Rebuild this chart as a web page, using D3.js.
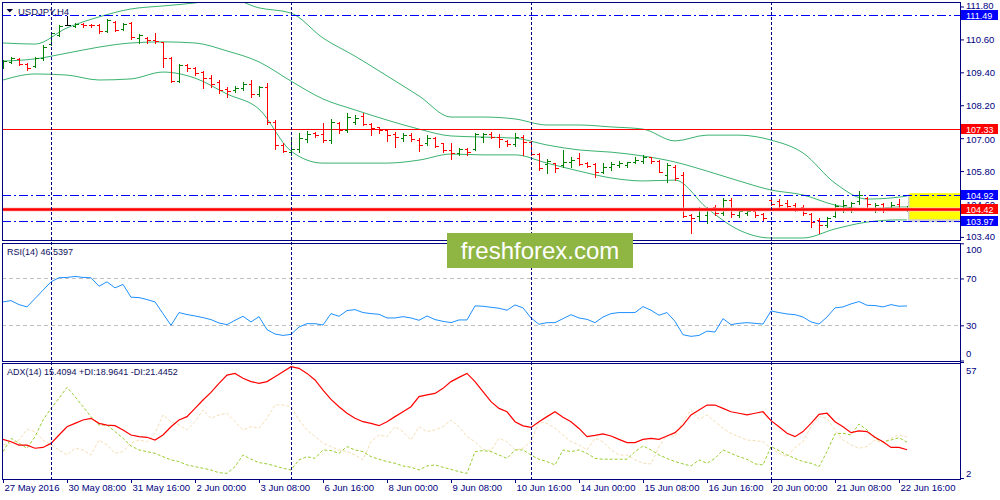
<!DOCTYPE html>
<html>
<head>
<meta charset="utf-8">
<title>USDJPY,H4</title>
<script src="https://cdn.jsdelivr.net/npm/d3@7"></script>
<style>
  html, body { margin: 0; padding: 0; background: #ffffff; overflow: hidden; }
  svg { display: block; }
  text { font-family: "Liberation Sans", Arial, sans-serif; }
</style>
</head>
<body>
<div id="chart"></div>
<script>
// values (H4 bars, 27 May - 22 Jun 2016)
const symbolLabel = 'USDJPY,H4';
const rsiLabel = 'RSI(14) 46.5397';
const adxLabel = 'ADX(14) 15.4094 +DI:18.9641 -DI:21.4452';

const timeLabels = ['27 May 2016', '30 May 08:00', '31 May 16:00', '2 Jun 00:00', '3 Jun 08:00',
  '6 Jun 16:00', '8 Jun 00:00', '9 Jun 08:00', '10 Jun 16:00', '14 Jun 00:00', '15 Jun 08:00',
  '16 Jun 16:00', '20 Jun 00:00', '21 Jun 08:00', '22 Jun 16:00'];
const timeLabelBars = [0, 8, 16, 24, 32, 40, 48, 56, 64, 72, 80, 88, 96, 104, 112];
const gridBars = [6, 36, 66, 96];

const opens = [
  109.63, 109.78, 109.89, 109.70, 109.63, 109.92, 110.43, 110.76, 111.13, 111.09,
  111.16, 111.13, 111.13, 110.91, 111.23, 110.98, 111.20, 110.65, 110.65, 110.58,
  110.51, 109.92, 109.08, 109.67, 109.56, 109.41, 109.19, 109.05, 108.79, 108.76,
  108.83, 108.97, 108.61, 108.86, 107.59, 106.75, 106.49, 106.60, 106.97, 107.19,
  107.15, 106.93, 107.55, 107.30, 107.59, 107.81, 107.52, 107.41, 107.30, 107.15,
  107.00, 107.11, 106.93, 106.82, 107.00, 106.82, 106.57, 106.46, 106.60, 106.60,
  107.04, 107.15, 107.04, 106.90, 106.79, 107.04, 106.86, 106.42, 106.06, 106.09,
  106.02, 106.13, 106.28, 106.09, 106.06, 105.77, 105.95, 106.02, 106.02, 106.13,
  106.17, 106.31, 106.17, 105.66, 105.95, 105.66, 104.20, 104.16, 104.20, 104.49,
  104.27, 104.74, 104.20, 104.27, 104.34, 104.23, 104.74, 104.71, 104.64, 104.56,
  104.49, 104.23, 104.02, 103.83, 104.16, 104.38, 104.49, 104.71, 104.82, 104.45,
  104.60, 104.45, 104.60, 104.40];
const highs = [
  109.85, 109.96, 109.92, 109.74, 109.96, 110.40, 110.87, 111.13, 111.45, 111.20,
  111.20, 111.16, 111.16, 111.34, 111.27, 111.20, 111.22, 110.80, 110.69, 110.83,
  110.52, 109.96, 109.70, 109.70, 109.59, 109.45, 109.30, 109.12, 108.86, 108.90,
  109.05, 109.12, 108.90, 109.01, 107.66, 106.82, 106.93, 107.19, 107.26, 107.22,
  107.55, 107.70, 107.59, 107.92, 107.85, 107.92, 107.55, 107.42, 107.31, 107.22,
  107.19, 107.19, 107.00, 107.11, 107.04, 106.83, 106.82, 106.64, 106.64, 107.19,
  107.19, 107.22, 107.15, 106.93, 107.19, 107.11, 106.90, 106.46, 106.24, 106.10,
  106.57, 106.31, 106.46, 106.13, 106.09, 106.09, 106.13, 106.17, 106.13, 106.31,
  106.39, 106.32, 106.20, 106.09, 106.02, 105.77, 104.23, 104.49, 104.49, 104.56,
  104.82, 104.82, 104.45, 104.38, 104.35, 104.27, 104.78, 104.78, 104.74, 104.64,
  104.56, 104.27, 104.09, 104.12, 104.60, 104.74, 104.67, 105.07, 104.85, 104.64,
  104.64, 104.67, 104.78, 104.53];
const lows = [
  109.56, 109.74, 109.67, 109.48, 109.59, 109.85, 110.40, 110.72, 111.13, 111.05,
  111.05, 111.05, 110.83, 110.87, 110.91, 110.94, 110.61, 110.47, 110.47, 110.47,
  109.59, 109.05, 109.05, 109.45, 109.30, 108.83, 108.86, 108.65, 108.50, 108.68,
  108.76, 108.50, 108.54, 107.52, 106.60, 106.49, 106.39, 106.49, 106.86, 107.04,
  106.86, 106.82, 107.19, 107.22, 107.52, 107.48, 107.11, 107.19, 106.90, 106.68,
  106.90, 106.90, 106.53, 106.75, 106.68, 106.49, 106.24, 106.39, 106.39, 106.57,
  106.86, 107.00, 106.68, 106.71, 106.71, 106.39, 106.39, 105.84, 105.73, 105.77,
  105.95, 105.95, 106.02, 105.95, 105.58, 105.73, 105.84, 105.95, 105.95, 106.09,
  106.09, 106.09, 105.77, 105.40, 105.47, 104.12, 103.54, 104.02, 103.91, 104.20,
  104.20, 104.12, 104.12, 104.20, 104.12, 104.02, 104.56, 104.49, 104.45, 104.34,
  104.20, 103.76, 103.54, 103.76, 104.12, 104.31, 104.31, 104.60, 104.49, 104.31,
  104.31, 104.38, 104.38, 104.34];
const closes = [
  109.81, 109.92, 109.70, 109.56, 109.92, 110.32, 110.83, 111.09, 111.13, 111.16,
  111.13, 111.11, 110.91, 111.31, 110.94, 111.18, 110.69, 110.76, 110.58, 110.54,
  109.92, 109.08, 109.67, 109.56, 109.38, 109.19, 108.97, 108.76, 108.72, 108.83,
  108.97, 108.61, 108.86, 107.59, 106.75, 106.53, 106.60, 107.00, 107.15, 107.11,
  106.93, 107.59, 107.30, 107.77, 107.73, 107.52, 107.37, 107.30, 107.11, 107.04,
  107.11, 106.97, 106.75, 107.00, 106.71, 106.57, 106.46, 106.60, 106.49, 107.15,
  107.15, 107.04, 106.97, 106.79, 107.04, 106.86, 106.42, 105.91, 106.17, 105.91,
  106.13, 106.20, 106.06, 105.98, 105.77, 105.95, 106.06, 106.09, 106.12, 106.20,
  106.31, 106.17, 105.77, 106.02, 105.55, 104.16, 104.09, 104.45, 104.42, 104.27,
  104.74, 104.23, 104.34, 104.34, 104.20, 104.09, 104.60, 104.56, 104.53, 104.42,
  104.27, 103.94, 103.83, 104.09, 104.53, 104.56, 104.64, 104.93, 104.60, 104.56,
  104.42, 104.56, 104.45, 104.42];

// Bollinger bands, read every 4th bar
const bbBars = [0, 4, 8, 12, 16, 20, 24, 28, 32, 36, 40, 44, 48, 52, 56, 60, 64, 68, 72, 76,
  80, 84, 88, 92, 96, 100, 104, 108, 112, 113];
const bbUpper = [110.47, 110.43, 111.02, 111.42, 111.71, 111.82, 111.93, 112.11, 111.75, 111.56,
  110.65, 109.99, 109.27, 108.54, 107.77, 107.77, 107.70, 107.48, 107.48, 107.41,
  107.33, 106.90, 107.11, 107.11, 106.93, 106.46, 105.36, 104.78, 104.85, 104.89];
const bbMid = [109.81, 109.89, 110.10, 110.32, 110.47, 110.51, 110.47, 110.18, 109.78, 109.08,
  108.43, 108.03, 107.66, 107.33, 107.08, 107.04, 107.00, 106.75, 106.57, 106.49,
  106.35, 106.13, 105.80, 105.44, 105.11, 104.93, 104.56, 104.42, 104.49, 104.49];
const bbLower = [109.12, 109.34, 109.30, 109.12, 109.16, 109.41, 109.19, 108.61, 108.06, 106.53,
  106.09, 106.09, 106.09, 106.20, 106.42, 106.39, 106.39, 106.09, 105.80, 105.55,
  105.44, 105.47, 104.45, 103.65, 103.36, 103.36, 103.69, 103.94, 104.02, 104.02];

const rsiValues = [
  50.0, 51.1, 47.7, 45.7, 52.9, 60.0, 67.1, 70.6, 70.9, 71.7,
  70.9, 70.6, 63.4, 67.1, 62.0, 64.9, 54.0, 53.7, 52.0, 50.0,
  40.0, 30.0, 40.9, 39.2, 38.0, 36.6, 34.9, 32.0, 30.6, 34.3,
  37.7, 32.9, 37.4, 26.3, 22.6, 21.4, 22.3, 28.6, 31.4, 31.4,
  30.3, 40.0, 37.7, 42.6, 43.4, 40.9, 40.0, 39.4, 36.3, 36.3,
  37.4, 36.3, 34.3, 38.0, 34.9, 33.4, 32.3, 34.6, 34.6, 46.6,
  46.3, 45.4, 44.6, 42.9, 47.4, 44.9, 36.3, 30.9, 32.3, 32.3,
  35.7, 39.1, 36.3, 35.1, 32.3, 37.1, 40.0, 40.9, 40.9, 40.9,
  46.0, 42.9, 38.6, 40.9, 33.4, 22.0, 20.6, 21.4, 25.1, 24.3,
  35.7, 30.6, 31.7, 32.3, 31.7, 31.1, 42.3, 40.9, 39.7, 39.1,
  37.1, 32.9, 31.1, 37.1, 44.9, 45.7, 48.3, 50.3, 47.1, 46.9,
  45.7, 47.7, 46.3, 46.54];
const adxValues = [
  20.3, 19.2, 17.6, 17.6, 16.1, 16.5, 18.4, 22.4, 26.3, 27.9,
  29.5, 30.3, 27.9, 27.1, 26.8, 24.8, 22.4, 21.6, 21.3, 20.0,
  22.4, 26.3, 29.5, 31.1, 35.0, 39.0, 42.6, 46.9, 50.8, 51.6,
  49.3, 47.7, 46.9, 47.7, 50.0, 52.4, 54.8, 54.0, 51.6, 48.5,
  43.7, 39.3, 35.8, 32.7, 30.3, 28.7, 27.9, 26.8, 28.7, 31.1,
  33.4, 35.8, 40.6, 41.4, 42.1, 44.5, 47.7, 49.7, 51.6, 47.7,
  42.9, 38.2, 35.0, 33.4, 28.7, 26.7, 26.0, 28.7, 31.1, 33.4,
  30.8, 28.7, 25.5, 21.6, 22.2, 22.9, 21.9, 20.3, 18.8, 18.8,
  20.3, 20.8, 20.3, 21.9, 23.5, 27.1, 31.9, 34.2, 36.6, 36.6,
  35.0, 33.4, 32.7, 31.9, 32.7, 33.4, 29.2, 26.3, 23.2, 21.6,
  24.0, 27.9, 32.2, 32.7, 28.7, 26.3, 23.5, 24.3, 24.0, 21.3,
  19.2, 16.5, 16.5, 15.41];
const plusDiValues = [
  14.5, 20.8, 18.5, 16.1, 21.6, 29.5, 35.0, 39.8, 45.0, 40.6,
  35.8, 31.1, 27.1, 27.1, 24.0, 20.8, 17.2, 15.3, 14.5, 13.7,
  12.1, 10.6, 9.8, 8.2, 7.4, 6.6, 5.8, 4.5, 4.2, 7.4,
  12.9, 10.9, 9.3, 8.7, 7.7, 6.6, 5.8, 10.6, 12.1, 11.3,
  15.3, 15.0, 13.7, 16.9, 15.3, 14.5, 12.1, 10.9, 9.8, 9.0,
  7.7, 7.1, 5.8, 7.7, 8.2, 7.1, 6.1, 5.0, 4.2, 14.5,
  15.0, 14.5, 12.9, 11.3, 15.3, 15.3, 12.9, 10.9, 9.8, 8.2,
  15.3, 14.5, 15.3, 13.7, 11.3, 10.9, 10.9, 10.9, 10.9, 14.5,
  17.2, 15.3, 12.9, 11.3, 9.8, 8.7, 7.7, 10.6, 9.0, 11.3,
  15.3, 13.7, 12.1, 10.9, 8.7, 8.2, 16.9, 15.0, 12.9, 11.3,
  9.8, 9.0, 7.4, 14.5, 22.9, 23.2, 22.4, 27.6, 24.8, 20.8,
  19.2, 20.0, 21.1, 18.96];
const minusDiValues = [
  17.7, 18.5, 20.0, 25.1, 24.0, 20.0, 17.7, 15.3, 12.9, 16.1,
  15.3, 12.9, 20.0, 17.7, 13.7, 14.5, 18.5, 20.0, 19.2, 23.2,
  31.9, 28.7, 27.1, 24.8, 28.7, 34.3, 30.3, 31.9, 32.7, 28.7,
  24.8, 26.3, 25.6, 30.3, 36.6, 36.6, 35.8, 29.5, 24.8, 21.6,
  18.5, 16.9, 15.3, 14.5, 12.9, 10.6, 19.2, 22.4, 21.6, 26.3,
  24.0, 20.0, 26.3, 24.0, 24.8, 26.3, 29.5, 26.3, 21.6, 19.2,
  15.6, 15.0, 20.8, 19.2, 15.3, 16.1, 19.2, 28.7, 27.9, 25.6,
  22.4, 19.2, 17.7, 15.3, 20.8, 19.2, 15.3, 12.9, 12.9, 10.6,
  9.0, 8.7, 16.9, 22.4, 21.6, 28.7, 34.3, 29.8, 31.9, 28.7,
  25.6, 23.2, 21.6, 20.0, 19.7, 19.2, 16.1, 13.7, 12.1, 16.5,
  19.2, 26.3, 31.1, 30.3, 24.8, 20.0, 17.7, 16.1, 16.9, 20.0,
  18.5, 20.8, 22.4, 21.45];

const priceTicks = [111.80, 110.60, 109.40, 108.20, 107.00, 105.80, 104.60, 103.40];
const dashDotLevels = [111.49, 104.92, 103.97];
const supportLevel = 107.33;
const currentPrice = 104.42;
const priceTags = [
  { value: 111.49, kind: 'line' },
  { value: 107.33, kind: 'level' },
  { value: 104.92, kind: 'line' },
  { value: 104.42, kind: 'level' },
  { value: 103.97, kind: 'line' }
];
const targetZone = [104.92, 103.97];
const rsiTicks = [100, 70, 30, 0];
const rsiLevels = [70, 30];
const adxTicks = [57, 2];

// ---- layout ----
const navy = '#000080';
const frame = { left: 2, right: 960 };
const panels = {
  main: { top: 2, bottom: 240 },
  rsi: { top: 243, bottom: 361 },
  adx: { top: 363, bottom: 479 }
};

const svg = d3.select('#chart').append('svg')
  .attr('width', 1000)
  .attr('height', 500);

const x = d3.scaleLinear().domain([0, closes.length - 1]).range([3, 907]);
const yPrice = d3.scaleLinear().domain([103.287, 111.964]).range([panels.main.bottom, panels.main.top]);
const yRsi = d3.scaleLinear().domain([0, 100]).range([360.5, 243.3]);
const yAdx = d3.scaleLinear().domain([2, 57]).range([478, 362]);

const px = i => Math.round(x(i)) + 0.5;
const crisp = v => Math.round(v) + 0.5;

/** a clipped group for one panel */
function panelGroup(name) {
  const p = panels[name];
  svg.append('clipPath').attr('id', `clip-${name}`)
    .append('rect')
    .attr('x', frame.left).attr('y', p.top)
    .attr('width', frame.right - frame.left).attr('height', p.bottom - p.top);
  return svg.append('g').attr('clip-path', `url(#clip-${name})`);
}

const mainG = panelGroup('main');
const rsiG = panelGroup('rsi');
const adxG = panelGroup('adx');

// vertical grid
svg.append('g').selectAll('line').data(gridBars).join('line')
  .attr('x1', d => px(d)).attr('x2', d => px(d))
  .attr('y1', panels.main.top).attr('y2', panels.adx.bottom)
  .attr('stroke', navy)
  .attr('stroke-dasharray', '3,2')
  .attr('shape-rendering', 'crispEdges');

// ---- main panel ----
mainG.append('rect')
  .attr('x', x(closes.length - 1) + 1)
  .attr('y', yPrice(targetZone[0]) - 1)
  .attr('width', frame.right - x(closes.length - 1) - 1)
  .attr('height', yPrice(targetZone[1]) - yPrice(targetZone[0]) + 2)
  .attr('fill', '#d0d0d0');
mainG.append('rect')
  .attr('x', x(closes.length - 1) + 2.5)
  .attr('y', yPrice(targetZone[0]) - 2)
  .attr('width', frame.right - x(closes.length - 1) - 2.5)
  .attr('height', yPrice(targetZone[1]) - yPrice(targetZone[0]))
  .attr('fill', '#ffff00');

const bandLine = d3.line()
  .x(d => x(d.bar))
  .y(d => yPrice(d.value))
  .curve(d3.curveMonotoneX);

[bbUpper, bbMid, bbLower].forEach(band => {
  mainG.append('path')
    .datum(bbBars.map((bar, k) => ({ bar, value: band[k] })))
    .attr('d', bandLine)
    .attr('fill', 'none')
    .attr('stroke', '#3cb371')
    .attr('stroke-width', 1);
});

mainG.append('line')
  .attr('x1', frame.left).attr('x2', frame.right)
  .attr('y1', crisp(yPrice(supportLevel))).attr('y2', crisp(yPrice(supportLevel)))
  .attr('stroke', '#ff0000')
  .attr('shape-rendering', 'crispEdges');

mainG.selectAll('line.dashdot').data(dashDotLevels).join('line')
  .attr('class', 'dashdot')
  .attr('x1', frame.left).attr('x2', frame.right)
  .attr('y1', d => crisp(yPrice(d))).attr('y2', d => crisp(yPrice(d)))
  .attr('stroke', '#0000ff')
  .attr('stroke-dasharray', '9,3,2,3')
  .attr('shape-rendering', 'crispEdges');

const bars = closes.map((c, i) => ({ i, o: opens[i], h: highs[i], l: lows[i], c }));
mainG.selectAll('path.bar').data(bars).join('path')
  .attr('class', 'bar')
  .attr('d', d => {
    const cx = px(d.i);
    const yo = crisp(yPrice(d.o));
    const yc = crisp(yPrice(d.c));
    return `M${cx},${Math.round(yPrice(d.h))}V${Math.round(yPrice(d.l)) + 1}` +
      `M${cx - 3},${yo}H${cx}M${cx},${yc}H${cx + 3}`;
  })
  .attr('fill', 'none')
  .attr('stroke', d => d.c > d.o ? '#008000' : d.c < d.o ? '#ff0000' : '#000000')
  .attr('shape-rendering', 'crispEdges');

const yNow = Math.round(yPrice(currentPrice)) + 0.5;
mainG.append('line')
  .attr('x1', frame.left).attr('x2', frame.right)
  .attr('y1', yNow).attr('y2', yNow)
  .attr('stroke', '#ffc8c8')
  .attr('stroke-width', 4);
mainG.append('line')
  .attr('x1', frame.left).attr('x2', frame.right)
  .attr('y1', yNow).attr('y2', yNow)
  .attr('stroke', '#ff0000')
  .attr('stroke-width', 2.4);

// ---- RSI panel ----
rsiG.selectAll('line.level').data(rsiLevels).join('line')
  .attr('class', 'level')
  .attr('x1', frame.left).attr('x2', frame.right)
  .attr('y1', d => crisp(yRsi(d))).attr('y2', d => crisp(yRsi(d)))
  .attr('stroke', '#c0c0c0')
  .attr('stroke-dasharray', '4,3')
  .attr('shape-rendering', 'crispEdges');

rsiG.append('path')
  .datum(rsiValues)
  .attr('d', d3.line().x((d, i) => x(i)).y(d => yRsi(d)))
  .attr('fill', 'none')
  .attr('stroke', '#1e90ff')
  .attr('stroke-width', 1);

// ---- ADX panel ----
const indicatorLine = d3.line().x((d, i) => x(i)).y(d => yAdx(d));
[
  { values: minusDiValues, color: '#f5deb3', dash: '3,2' },
  { values: plusDiValues, color: '#9acd32', dash: '3,2' },
  { values: adxValues, color: '#ff0000', dash: null }
].forEach(s => {
  adxG.append('path')
    .datum(s.values)
    .attr('d', indicatorLine)
    .attr('fill', 'none')
    .attr('stroke', s.color)
    .attr('stroke-width', s.dash ? 1 : 1.2)
    .attr('stroke-dasharray', s.dash);
});

// ---- frames ----
Object.values(panels).forEach(p => {
  svg.append('rect')
    .attr('x', frame.left + 0.5).attr('y', p.top + 0.5)
    .attr('width', frame.right - frame.left).attr('height', p.bottom - p.top)
    .attr('fill', 'none')
    .attr('stroke', navy)
    .attr('shape-rendering', 'crispEdges');
});

// ---- axes ----
function renderRightAxis(scale, ticks, format, shift) {
  const g = svg.append('g')
    .attr('transform', `translate(${frame.right},0)`)
    .call(d3.axisRight(scale).tickValues(ticks).tickSize(4).tickPadding(2).tickFormat(format));
  g.select('.domain').remove();
  g.selectAll('.tick line').attr('stroke', navy);
  g.selectAll('.tick text')
    .attr('fill', navy)
    .attr('font-size', 9.5)
    .attr('font-family', '"Liberation Sans", Arial, sans-serif')
    .attr('y', d => (shift && shift[d]) || 0);
  return g;
}

renderRightAxis(yPrice, priceTicks, d3.format('.2f'), { 111.8: -1, 107: 1 });
renderRightAxis(yRsi, rsiTicks, d => String(d), { 100: 6, 0: -7 });
renderRightAxis(yAdx, adxTicks, d => String(d), { 57: 8, 2: -5 });

const xAxis = svg.append('g')
  .attr('transform', `translate(0,${panels.adx.bottom})`)
  .call(d3.axisBottom(x).tickValues(timeLabelBars).tickSize(4).tickPadding(1)
    .tickFormat((d, i) => timeLabels[i]));
xAxis.select('.domain').remove();
xAxis.selectAll('.tick line').attr('stroke', navy);
xAxis.selectAll('.tick text')
  .attr('fill', navy)
  .attr('font-size', 9.5)
  .attr('font-family', '"Liberation Sans", Arial, sans-serif')
  .attr('text-anchor', 'start')
  .attr('x', 1);

// price tags on the right scale
const tags = svg.append('g').selectAll('g').data(priceTags).join('g')
  .attr('transform', d => `translate(${frame.right + 1},${Math.round(yPrice(d.value))})`);
tags.append('rect')
  .attr('x', 0).attr('y', -5)
  .attr('width', 37).attr('height', 10)
  .attr('fill', d => d.kind === 'line' ? '#0000ff' : '#ff0000');
tags.append('text')
  .attr('x', 5).attr('y', 3.5)
  .attr('fill', '#ffffff')
  .attr('font-size', 9)
  .text(d => d3.format('.2f')(d.value));

// ---- panel captions ----
svg.append('path')
  .attr('d', 'M6.5,9H13L9.75,12.5Z')
  .attr('fill', '#000030');
svg.append('text')
  .attr('x', 18).attr('y', 14.5)
  .attr('fill', '#101060')
  .attr('font-size', 9.5)
  .text(symbolLabel);
svg.append('text')
  .attr('x', 7).attr('y', 255)
  .attr('fill', '#101060')
  .attr('font-size', 9)
  .text(rsiLabel);
svg.append('text')
  .attr('x', 7).attr('y', 375)
  .attr('fill', '#101060')
  .attr('font-size', 9)
  .text(adxLabel);

// ---- watermark ----
svg.append('rect')
  .attr('x', 447).attr('y', 233)
  .attr('width', 186).attr('height', 35)
  .attr('fill', '#8fb543');
svg.append('text')
  .attr('x', 540).attr('y', 259)
  .attr('text-anchor', 'middle')
  .attr('fill', '#ffffff')
  .attr('font-family', '"Open Sans", sans-serif')
  .attr('font-size', 24)
  .text('freshforex.com');
</script>
</body>
</html>
